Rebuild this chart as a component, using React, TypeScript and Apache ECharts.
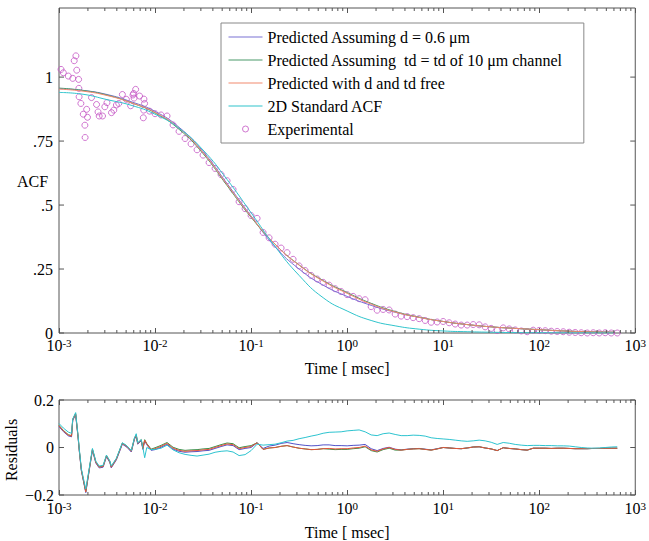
import React, { useEffect, useRef } from 'react';
import * as echarts from 'echarts';

const FONT = '"Liberation Serif", "Times New Roman", serif';
const AXIS = '#555555';

// ---------- Experimental ACF ----------
const expTimeEarly = [0.00105, 0.00111, 0.00125, 0.00139, 0.00144, 0.0015, 0.00153, 0.0016, 0.00161, 0.00162, 0.00169, 0.00179, 0.00186, 0.00187, 0.00194, 0.00198, 0.00218, 0.00246, 0.00255, 0.00262, 0.00284, 0.003, 0.00316, 0.00352, 0.00372, 0.00396, 0.00419, 0.00457, 0.00503, 0.00557, 0.00589, 0.00598, 0.00605, 0.00628, 0.0069, 0.00755, 0.00762, 0.00766, 0.00778, 0.00877];
const expACFEarly = [1.03, 1.017, 1.004, 0.995, 1.064, 1.083, 1.027, 0.991, 0.956, 0.923, 0.897, 0.855, 0.812, 0.764, 0.874, 0.843, 0.92, 0.893, 0.864, 0.848, 0.848, 0.884, 0.9, 0.861, 0.871, 0.891, 0.897, 0.932, 0.913, 0.888, 0.93, 0.936, 0.918, 0.952, 0.926, 0.841, 0.871, 0.914, 0.897, 0.867];

const gridTime = [
  0.01, 0.01155, 0.01334, 0.0154, 0.01778, 0.02054, 0.02371, 0.02738, 0.03162, 0.03652, 0.04217, 0.0487, 0.05623, 0.06494, 0.07499, 0.0866,
  0.1, 0.1155, 0.1334, 0.154, 0.1778, 0.2054, 0.2371, 0.2738, 0.3162, 0.3652, 0.4217, 0.487, 0.5623, 0.6494, 0.7499, 0.866,
  1.0, 1.155, 1.334, 1.54, 1.778, 2.054, 2.371, 2.738, 3.162, 3.652, 4.217, 4.87, 5.623, 6.494, 7.499, 8.66,
  10.0, 11.55, 13.34, 15.4, 17.78, 20.54, 23.71, 27.38, 31.62, 36.52, 42.17, 48.7, 56.23, 64.94, 74.99, 86.6,
  100.0, 115.5, 133.4, 154.0, 177.8, 205.4, 237.1, 273.8, 316.2, 365.2, 421.7, 487.0, 562.3, 649.4,
];
const expACFGrid = [
  0.857, 0.852, 0.848, 0.813, 0.788, 0.76, 0.739, 0.716, 0.695, 0.666,
  0.643, 0.619, 0.595, 0.561, 0.513, 0.486, 0.459, 0.448, 0.393, 0.372,
  0.347, 0.332, 0.314, 0.288, 0.262, 0.244, 0.225, 0.211, 0.198, 0.187,
  0.173, 0.162, 0.15, 0.143, 0.134, 0.13, 0.103, 0.089, 0.092, 0.09,
  0.074, 0.066, 0.064, 0.06, 0.056, 0.049, 0.042, 0.043, 0.045, 0.04,
  0.035, 0.031, 0.031, 0.033, 0.032, 0.024, 0.018, 0.01, 0.02, 0.016,
  0.012, 0.008, 0.005, 0.011, 0.01, 0.009, 0.007, 0.006, 0.005, 0.003,
  0.002, 0.001, 0.0, 0.001, 0.0, 0.001, 0.0, 0.0,
];
const expTime = [...expTimeEarly, ...gridTime];
const expACF = [...expACFEarly, ...expACFGrid];

// ---------- Fitted curves ----------
const fitTime = [0.001, 0.001778, 0.003162, 0.005623, 0.01, 0.01778, 0.03162, 0.05623, 0.1, 0.1778, 0.3162, 0.5623, 1, 1.778, 3.162, 5.623, 10, 17.78, 31.62, 56.23, 100, 177.8, 316.2, 600];
const fitD06 = [0.955, 0.948, 0.932, 0.904, 0.866, 0.804, 0.709, 0.584, 0.457, 0.337, 0.25, 0.187, 0.143, 0.108, 0.081, 0.061, 0.045, 0.033, 0.024, 0.018, 0.013, 0.008, 0.005, 0.003];
const fitTd10 = [0.957, 0.948, 0.93, 0.9, 0.86, 0.796, 0.701, 0.576, 0.452, 0.347, 0.266, 0.205, 0.158, 0.116, 0.084, 0.062, 0.045, 0.033, 0.024, 0.018, 0.013, 0.008, 0.005, 0.003];
const fitFree = [0.953, 0.945, 0.928, 0.9, 0.862, 0.8, 0.705, 0.58, 0.455, 0.347, 0.265, 0.203, 0.155, 0.113, 0.082, 0.061, 0.045, 0.033, 0.024, 0.018, 0.013, 0.008, 0.005, 0.003];
const fit2D = [0.94, 0.933, 0.912, 0.89, 0.855, 0.8, 0.715, 0.6, 0.47, 0.338, 0.225, 0.138, 0.086, 0.049, 0.028, 0.015, 0.008, 0.005, 0.003, 0.0015, 0.001, 0.0005, 0.0003, 0.0002];

// ---------- Residuals ----------
const resTimeEarly = [0.001, 0.00111, 0.00125, 0.00135, 0.00139, 0.00149, 0.00158, 0.00163, 0.00171, 0.0019, 0.00206, 0.00223, 0.00242, 0.00262, 0.00288, 0.00312, 0.00338, 0.0035, 0.00396, 0.00457, 0.0051, 0.00566, 0.0061, 0.00637, 0.0066, 0.00718, 0.00747, 0.0078, 0.0082, 0.0091];
const resTime = [...resTimeEarly, ...gridTime];
const resFree = [
  0.091, 0.07, 0.052, 0.048, 0.117, 0.141, 0.044, -0.016, -0.096, -0.187, -0.096, -0.009, -0.063, -0.083, -0.08, -0.036, -0.06, -0.083, -0.049, 0.017, 0.004, -0.016, 0.037, 0.051, 0.017, 0.031, -0.005, 0.031, 0.015, -0.009,
  -0.005, 0.005, 0.017, -0.003, -0.012, -0.016, -0.014, -0.013, -0.01, -0.008,
  0, 0.008, 0.015, 0.012, -0.005, 0, 0.004, 0.02, -0.008, -0.002,
  0, 0.005, 0.008, 0.002, -0.003, -0.006, -0.009, -0.008, -0.005, -0.004,
  -0.006, -0.005, -0.005, -0.002, 0, 0.006, -0.01, -0.016, -0.006, 0,
  -0.008, -0.011, -0.008, -0.006, -0.005, -0.008, -0.011, -0.006, 0, -0.002,
  -0.004, -0.005, -0.002, 0.002, 0.003, -0.002, -0.006, -0.013, -0.001, -0.004,
  -0.006, -0.009, -0.011, -0.003, -0.003, -0.003, -0.004, -0.003, -0.003, -0.004,
  -0.005, -0.005, -0.005, -0.004, -0.004, -0.003, -0.003, -0.003,
];
const resTd10 = [
  0.093, 0.072, 0.054, 0.05, 0.119, 0.143, 0.046, -0.014, -0.094, -0.185, -0.094, -0.007, -0.061, -0.081, -0.078, -0.034, -0.058, -0.081, -0.047, 0.019, 0.006, -0.014, 0.039, 0.053, 0.019, 0.033, -0.003, 0.033, 0.017, -0.007,
  -0.001, 0.009, 0.021, 0.001, -0.008, -0.012, -0.01, -0.009, -0.006, -0.004,
  0.004, 0.012, 0.019, 0.016, -0.001, 0.004, 0.008, 0.02, -0.008, -0.002,
  0, 0.005, 0.008, 0.002, -0.003, -0.006, -0.009, -0.008, -0.005, -0.007,
  -0.009, -0.008, -0.008, -0.005, -0.003, 0.003, -0.013, -0.019, -0.009, -0.003,
  -0.011, -0.011, -0.008, -0.006, -0.005, -0.008, -0.011, -0.006, 0, -0.002,
  -0.004, -0.005, -0.002, 0.002, 0.003, -0.002, -0.006, -0.013, -0.001, -0.004,
  -0.006, -0.009, -0.011, -0.003, -0.003, -0.003, -0.004, -0.003, -0.003, -0.004,
  -0.005, -0.005, -0.005, -0.004, -0.004, -0.003, -0.003, -0.003,
];
const resD06 = [
  0.088, 0.067, 0.049, 0.045, 0.114, 0.138, 0.041, -0.019, -0.099, -0.19, -0.099, -0.012, -0.066, -0.086, -0.083, -0.039, -0.063, -0.086, -0.052, 0.014, 0.001, -0.019, 0.034, 0.048, 0.014, 0.028, -0.008, 0.028, 0.012, -0.012,
  -0.009, 0.001, 0.013, -0.007, -0.016, -0.02, -0.018, -0.017, -0.014, -0.012,
  -0.004, 0.004, 0.011, 0.008, -0.009, -0.004, 0, 0.02, -0.004, 0.006,
  0.01, 0.017, 0.021, 0.016, 0.012, 0.009, 0.007, 0.008, 0.011, 0.011,
  0.008, 0.008, 0.007, 0.009, 0.01, 0.013, -0.005, -0.013, -0.004, 0.001,
  -0.007, -0.01, -0.007, -0.005, -0.004, -0.007, -0.01, -0.005, 0, -0.002,
  -0.004, -0.005, -0.002, 0.002, 0.003, -0.002, -0.006, -0.013, -0.001, -0.004,
  -0.006, -0.009, -0.011, -0.003, -0.003, -0.003, -0.004, -0.003, -0.003, -0.004,
  -0.005, -0.005, -0.005, -0.004, -0.004, -0.003, -0.003, -0.003,
];
const res2D = [
  0.101, 0.082, 0.065, 0.06, 0.12, 0.147, 0.05, -0.01, -0.09, -0.175, -0.09, -0.004, -0.058, -0.078, -0.075, -0.032, -0.056, -0.078, -0.045, 0.02, 0.007, -0.013, 0.04, 0.058, 0.02, 0.033, 0.0, -0.043, 0.0, -0.009,
  -0.008, -0.003, 0.01, -0.01, -0.022, -0.029, -0.033, -0.036, -0.032, -0.028,
  -0.02, -0.016, -0.014, -0.019, -0.034, -0.03, -0.013, 0.014, 0.01, 0.012,
  0.014, 0.02, 0.027, 0.03, 0.037, 0.042, 0.048, 0.053, 0.06, 0.064,
  0.065, 0.066, 0.07, 0.072, 0.074, 0.066, 0.053, 0.05, 0.058, 0.061,
  0.055, 0.05, 0.05, 0.052, 0.051, 0.048, 0.041, 0.038, 0.036, 0.034,
  0.031, 0.028, 0.026, 0.028, 0.031, 0.028, 0.022, 0.013, 0.021, 0.018,
  0.013, 0.01, 0.008, 0.009, 0.009, 0.008, 0.008, 0.007, 0.007, 0.006,
  0.003, 0.0, -0.002, -0.003, -0.002, 0.0, 0.002, 0.003,
];

// ---------- Axis ticks ----------
const acfTickValues = [0, 0.25, 0.5, 0.75, 1];
const acfTickLabels = ['0', '.25', '.5', '.75', '1'];
const resTickValues = [-0.2, 0, 0.2];
const resTickLabels = ['\u22120.2', '0', '0.2'];
const decadeExps = [-3, -2, -1, 0, 1, 2];
const minorMults = [2, 3, 4, 5, 6, 7, 8, 9];

const T_MIN = 0.001;
const T_MAX = 1000;
const ACF_MAX = 1.27;

const NAMES = {
  d06: 'Predicted Assuming d = 0.6 \u03bcm',
  td10: 'Predicted Assuming  td = td of 10 \u03bcm channel',
  free: 'Predicted with d and td free',
  std: '2D Standard ACF',
  exp: 'Experimental',
};

const zip = (xs: number[], ys: number[]) => xs.map((x, i) => [x, ys[i]]);

const LINE_ICON = 'path://M0,0M34,14M0,6.5L34,6.5L34,7.5L0,7.5Z';
const CIRCLE_ICON = 'path://M0,0M34,14M20,7A3,3,0,1,1,14,7A3,3,0,1,1,20,7Z';

export default function App() {
  const ref = useRef<HTMLDivElement>(null);
  useEffect(() => {
    document.body.style.margin = '0';
    if (!ref.current) return;
    const chart = echarts.init(ref.current, undefined, { renderer: 'svg' });

    const minorTicks: number[] = [];
    decadeExps.forEach((e) => minorMults.forEach((m) => minorTicks.push(m * Math.pow(10, e))));

    const labelFmt = (v: number, vals: number[], labs: string[]) => {
      const i = vals.findIndex((t) => Math.abs(t - v) < 1e-9);
      return i >= 0 ? labs[i] : '';
    };

    const logLabel = (margin: number) => ({
      margin,
      formatter: (v: number) => {
        const e = Math.round(Math.log10(v));
        return `{b|10}{s|${e < 0 ? '-' + -e : e}}`;
      },
      rich: {
        b: { fontSize: 16, fontFamily: FONT, color: '#000', lineHeight: 16, verticalAlign: 'bottom' },
        s: { fontSize: 11, fontFamily: FONT, color: '#000', lineHeight: 11, verticalAlign: 'top', padding: [0, 0, 8, 0] },
      },
    });

    const xAxisBase = (gridIndex: number, position: 'bottom' | 'top') => ({
      type: 'log',
      logBase: 10,
      gridIndex,
      position,
      min: T_MIN,
      max: T_MAX,
      axisLine: { show: false, onZero: false },
      axisTick: { show: true, inside: true, length: 5, lineStyle: { color: AXIS } },
      splitLine: { show: false },
      minorTick: { show: false },
    });

    const xMinorSeries = (xi: number, yi: number, yMin: number, yMax: number) => ({
      type: 'custom',
      xAxisIndex: xi,
      yAxisIndex: yi,
      silent: true,
      z: 5,
      data: minorTicks.map((t) => [t, yMin]),
      encode: { x: 0, y: 1 },
      renderItem: (_p: any, api: any) => {
        const b = api.coord([api.value(0), yMin]);
        const t = api.coord([api.value(0), yMax]);
        return {
          type: 'group',
          children: [
            { type: 'line', shape: { x1: b[0], y1: b[1], x2: b[0], y2: b[1] - 3 }, style: { stroke: AXIS, lineWidth: 1 } },
            { type: 'line', shape: { x1: t[0], y1: t[1], x2: t[0], y2: t[1] + 3 }, style: { stroke: AXIS, lineWidth: 1 } },
          ],
        };
      },
    });

    const yTickSeries = (xi: number, yi: number, vals: number[]) => ({
      type: 'custom',
      xAxisIndex: xi,
      yAxisIndex: yi,
      silent: true,
      z: 5,
      data: vals.map((v) => [T_MIN, v]),
      encode: { x: 0, y: 1 },
      renderItem: (_p: any, api: any) => {
        const l = api.coord([T_MIN, api.value(1)]);
        const r = api.coord([T_MAX, api.value(1)]);
        return {
          type: 'group',
          children: [
            { type: 'line', shape: { x1: l[0], y1: l[1], x2: l[0] + 5, y2: l[1] }, style: { stroke: AXIS, lineWidth: 1 } },
            { type: 'line', shape: { x1: r[0], y1: r[1], x2: r[0] - 5, y2: r[1] }, style: { stroke: AXIS, lineWidth: 1 } },
          ],
        };
      },
    });

    const fitLine = (name: string, data: number[], color: string) => ({
      type: 'line',
      name,
      xAxisIndex: 0,
      yAxisIndex: 0,
      data: zip(fitTime, data),
      symbol: 'none',
      smooth: 0.5,
      color,
      lineStyle: { width: 1, color },
      z: 3,
    });

    const resLine = (name: string, data: number[], color: string) => ({
      type: 'line',
      name,
      xAxisIndex: 2,
      yAxisIndex: 1,
      data: zip(resTime, data),
      symbol: 'none',
      color,
      lineStyle: { width: 1, color },
      z: 3,
    });

    const nameStyle = { fontSize: 16, fontFamily: FONT, color: '#000' };
    const lineLegend = (name: string) => ({ name, icon: LINE_ICON, itemStyle: { borderWidth: 0 } });

    chart.setOption({
      animation: false,
      backgroundColor: '#fff',
      textStyle: { fontFamily: FONT },
      grid: [
        { left: 59, right: 11, top: 8, height: 325, show: true, borderColor: AXIS, borderWidth: 1, backgroundColor: 'transparent' },
        { left: 59, right: 11, top: 400, height: 100, show: true, borderColor: AXIS, borderWidth: 1, backgroundColor: 'transparent' },
      ],
      xAxis: [
        {
          ...xAxisBase(0, 'bottom'),
          axisLabel: logLabel(4),
          name: 'Time [ msec]',
          nameLocation: 'middle',
          nameGap: 26,
          nameTextStyle: nameStyle,
        },
        { ...xAxisBase(0, 'top'), axisLabel: { show: false } },
        {
          ...xAxisBase(1, 'bottom'),
          axisLabel: logLabel(5),
          name: 'Time [ msec]',
          nameLocation: 'middle',
          nameGap: 29,
          nameTextStyle: nameStyle,
        },
        { ...xAxisBase(1, 'top'), axisLabel: { show: false } },
      ],
      yAxis: [
        {
          type: 'value',
          gridIndex: 0,
          min: 0,
          max: ACF_MAX,
          interval: 0.25,
          axisLine: { show: false, onZero: false },
          axisTick: { show: false },
          splitLine: { show: false },
          axisLabel: {
            margin: 6,
            fontSize: 16,
            lineHeight: 8,
            fontFamily: FONT,
            color: '#000',
            showMaxLabel: false,
            formatter: (v: number) => labelFmt(v, acfTickValues, acfTickLabels),
          },
        },
        {
          type: 'value',
          gridIndex: 1,
          min: -0.2,
          max: 0.2,
          interval: 0.2,
          axisLine: { show: false, onZero: false },
          axisTick: { show: false },
          splitLine: { show: false },
          axisLabel: {
            margin: 5,
            fontSize: 16,
            lineHeight: 8,
            fontFamily: FONT,
            color: '#000',
            formatter: (v: number) => labelFmt(v, resTickValues, resTickLabels),
          },
        },
      ],
      legend: {
        left: 221,
        top: 23,
        orient: 'vertical',
        padding: [6, 21, 6, 7],
        itemGap: 7,
        itemWidth: 34,
        itemHeight: 14,
        borderColor: '#888',
        borderWidth: 1,
        backgroundColor: '#fff',
        selectedMode: false,
        textStyle: { fontSize: 16, fontFamily: FONT, color: '#000', lineHeight: 16 },
        data: [
          lineLegend(NAMES.d06),
          lineLegend(NAMES.td10),
          lineLegend(NAMES.free),
          lineLegend(NAMES.std),
          {
            name: NAMES.exp,
            icon: CIRCLE_ICON,
            itemStyle: { color: 'transparent', borderColor: '#c455c4', borderWidth: 1 },
          },
        ],
      },
      graphic: [
        {
          type: 'text',
          x: 17,
          y: 181,
          style: { text: 'ACF', fontSize: 16, fontFamily: FONT, fill: '#000', align: 'left', verticalAlign: 'middle' },
        },
        {
          type: 'text',
          x: 11,
          y: 450,
          rotation: Math.PI / 2,
          style: { text: 'Residuals', fontSize: 16, fontFamily: FONT, fill: '#000', align: 'center', verticalAlign: 'middle' },
        },
      ],
      series: [
        {
          type: 'scatter',
          name: NAMES.exp,
          xAxisIndex: 0,
          yAxisIndex: 0,
          data: zip(expTime, expACF),
          symbol: 'circle',
          symbolSize: 6,
          itemStyle: { color: 'transparent', borderColor: '#c455c4', borderWidth: 1 },
          z: 2,
        },
        fitLine(NAMES.d06, fitD06, '#7b72d4'),
        fitLine(NAMES.td10, fitTd10, '#4a9a6a'),
        fitLine(NAMES.free, fitFree, '#f2896e'),
        fitLine(NAMES.std, fit2D, '#30c4cc'),
        resLine('Residual d = 0.6', resD06, '#5252c8'),
        resLine('Residual td = td 10', resTd10, '#3a8f4a'),
        resLine('Residual free', resFree, '#e5533a'),
        resLine('Residual 2D', res2D, '#2cc3cf'),
        xMinorSeries(0, 0, 0, ACF_MAX),
        xMinorSeries(2, 1, -0.2, 0.2),
        yTickSeries(0, 0, acfTickValues),
        yTickSeries(2, 1, resTickValues),
      ],
    });

    return () => chart.dispose();
  }, []);

  return <div ref={ref} style={{ width: 649, height: 541 }} />;
}
